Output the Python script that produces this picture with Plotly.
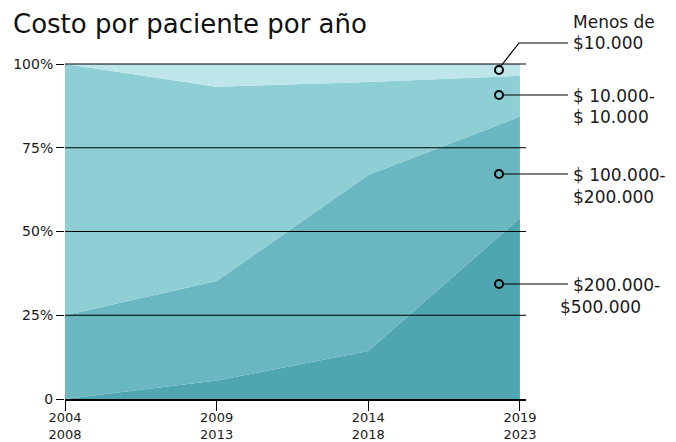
import plotly.graph_objects as go

periods = ["2004<br>2008", "2009<br>2013", "2014<br>2018", "2019<br>2023"]
series_names = ["$200.000-<br>$500.000", "$ 100.000-<br>$200.000", "$ 10.000-<br>$ 10.000", "Menos de<br>$10.000"]
s_200_500 = [0, 5.5, 14.3, 54.0]
s_100_200 = [25.0, 29.7, 52.6, 30.3]
s_10_100 = [75.0, 58.0, 27.7, 12.2]
s_menos_10 = [0, 6.8, 5.4, 3.5]
y_tick_vals = [0, 25, 50, 75, 100]
y_tick_text = ["0", "25%", "50%", "75%", "100%"]

colors = ["#4fa5b0", "#6ab7c1", "#8ecfd6", "#bde5ea"]
FONT = "DejaVu Sans"
TXT = "#1a1a1a"

# layout geometry (pixels)
W, H = 676, 442
L, R, T, B = 65, 150, 64, 43
PW, PH = W - L - R, H - T - B


def px(X):
    return (X - L) / PW


def py(Y):
    return (H - B - Y) / PH


xs = list(range(len(periods)))
fig = go.Figure()
for vals, col, name in zip([s_200_500, s_100_200, s_10_100, s_menos_10], colors, series_names):
    fig.add_trace(go.Scatter(x=xs, y=vals, stackgroup="one", mode="none",
                             fillcolor=col, name=name.replace("<br>", " "), hoverinfo="skip"))

# label marker positions (pixel y of each circle)
mx_px = 499
marker_px_y = [284, 174, 95, 70]
fig.add_trace(go.Scatter(x=[(mx_px - L) / (PW / 3.04)] * 4,
                         y=[(H - B - v) / PH * 100 for v in marker_px_y], mode="markers",
                         marker=dict(symbol="circle-open", size=8, color="black",
                                     line=dict(width=2, color="black")),
                         hoverinfo="skip"))

shapes = []
for v in [25, 50, 75, 100]:
    shapes.append(dict(type="line", xref="paper", yref="paper", x0=0, x1=1,
                       y0=v / 100, y1=v / 100, line=dict(color="black", width=1.2), layer="above"))
xe = 568
for yv in marker_px_y[:3]:
    shapes.append(dict(type="line", xref="paper", yref="paper", x0=px(mx_px + 4), x1=px(xe),
                       y0=py(yv), y1=py(yv), line=dict(color="black", width=1.2), layer="above"))
shapes.append(dict(type="path", xref="paper", yref="paper",
                   path=f"M {px(mx_px+2)},{py(66)} L {px(519)},{py(43)} L {px(xe)},{py(43)}",
                   line=dict(color="black", width=1.2), layer="above"))

# label text lines: (series index, line index) -> pixel position
label_pos = {
    (3, 0): (571, 22), (3, 1): (571, 43),
    (2, 0): (571, 96), (2, 1): (571, 117),
    (1, 0): (571, 175), (1, 1): (571, 197),
    (0, 0): (571, 285), (0, 1): (558, 307),
}
annotations = []
for (si, li), (X, Y) in label_pos.items():
    text = series_names[si].split("<br>")[li]
    annotations.append(dict(x=px(X), y=py(Y), xref="paper", yref="paper", text=text,
                            showarrow=False, xanchor="left", yanchor="middle",
                            font=dict(family=FONT, size=17, color=TXT)))
annotations.append(dict(x=px(11), y=py(24), xref="paper", yref="paper",
                        text="Costo por paciente por año", showarrow=False,
                        xanchor="left", yanchor="middle",
                        font=dict(family=FONT, size=26, color="#111")))

fig.update_layout(
    width=W, height=H,
    margin=dict(l=L, r=R, t=T, b=B, autoexpand=False),
    plot_bgcolor="white", paper_bgcolor="white",
    showlegend=False,
    shapes=shapes, annotations=annotations,
    xaxis=dict(range=[0, 3.04], tickvals=xs, ticktext=periods, showgrid=False,
               zeroline=False, showline=True, linecolor="black", linewidth=1.5,
               ticks="outside", ticklen=10, tickcolor="black", tickwidth=1.2,
               ticklabelstandoff=-4, automargin=False,
               tickfont=dict(family=FONT, size=13, color=TXT), fixedrange=True),
    yaxis=dict(range=[0, 100], tickvals=y_tick_vals, ticktext=y_tick_text, showgrid=False,
               zeroline=False, showline=False, ticks="outside", ticklen=8,
               tickcolor="black", tickwidth=1.2, automargin=False,
               tickfont=dict(family=FONT, size=14, color=TXT), fixedrange=True),
)
fig.write_html("out.html", config={"displayModeBar": False},
               post_script="document.body.style.margin='0';document.body.style.overflow='hidden';")
